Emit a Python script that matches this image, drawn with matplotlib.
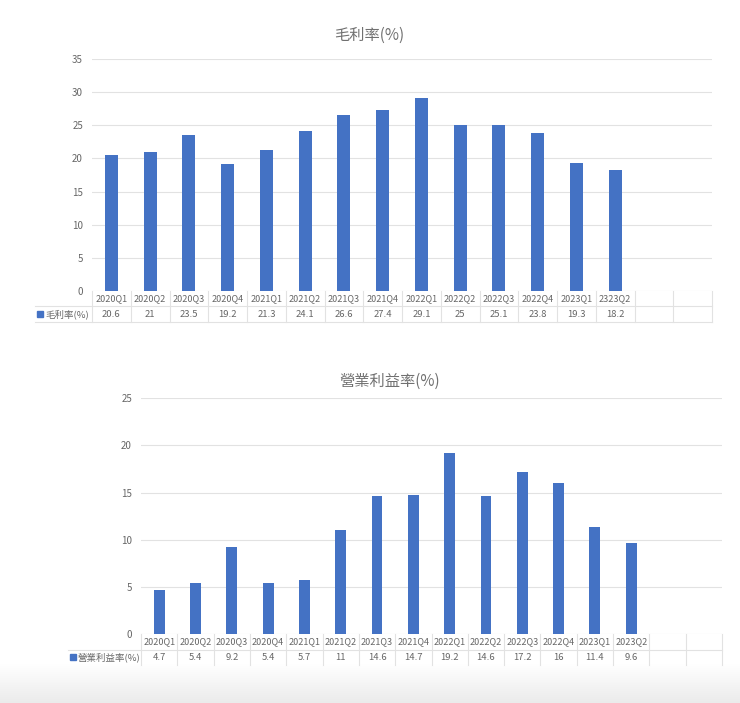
import numpy as np
import matplotlib
matplotlib.use('Agg')
import matplotlib.pyplot as plt
from matplotlib.transforms import blended_transform_factory

plt.rcParams['font.family'] = ['Noto Sans CJK TC', 'DejaVu Sans']

# data
gm_quarters = ['2020Q1', '2020Q2', '2020Q3', '2020Q4', '2021Q1', '2021Q2', '2021Q3',
               '2021Q4', '2022Q1', '2022Q2', '2022Q3', '2022Q4', '2023Q1', '2323Q2']
gm_values = [20.6, 21, 23.5, 19.2, 21.3, 24.1, 26.6, 27.4, 29.1, 25, 25.1, 23.8, 19.3, 18.2]
gm_title = '毛利率(%)'

op_quarters = ['2020Q1', '2020Q2', '2020Q3', '2020Q4', '2021Q1', '2021Q2', '2021Q3',
               '2021Q4', '2022Q1', '2022Q2', '2022Q3', '2022Q4', '2023Q1', '2023Q2']
op_values = [4.7, 5.4, 9.2, 5.4, 5.7, 11, 14.6, 14.7, 19.2, 14.6, 17.2, 16, 11.4, 9.6]
op_title = '營業利益率(%)'

NSLOTS = 16  # 14 quarters + 2 empty columns like the excel sheet
BLUE = '#4472C4'
GRID = '#e2e2e2'
TXT = '#666666'

W, H = 740, 703
fig = plt.figure(figsize=(W / 100, H / 100), dpi=100)
fig.patch.set_facecolor('white')

# overlay axes in pixel coordinates for table / title placement
over = fig.add_axes([0, 0, 1, 1], zorder=5)
over.axis('off')
over.patch.set_alpha(0)

# light grey fade at the bottom of the screenshot
grad = np.linspace(0, 1, 50).reshape(-1, 1)
fade = matplotlib.colors.LinearSegmentedColormap.from_list('fade', ['#ffffff', '#ebebeb'])
over.imshow(grad, extent=[0, W, H, 664], cmap=fade, aspect='auto', zorder=0)
over.set_xlim(0, W)
over.set_ylim(H, 0)


def panel(left, right, top, bottom, ymax, cats, vals, title, title_xy,
          label, label_left, row_h, bar_w, bottom_line=True):
    ax = fig.add_axes([left / W, 1 - bottom / H, (right - left) / W, (bottom - top) / H])
    xs = np.arange(len(cats))
    ax.bar(xs, vals, width=bar_w, color=BLUE, zorder=3)
    ax.set_xlim(-0.5, NSLOTS - 0.5)
    ax.set_ylim(0, ymax)
    ax.set_yticks(np.arange(0, ymax + 1, 5))
    ax.set_xticks([])
    ax.tick_params(axis='y', length=0, pad=6.5, labelsize=7, labelcolor=TXT)
    for s in ax.spines.values():
        s.set_visible(False)
    ax.grid(axis='y', color=GRID, linewidth=0.8, zorder=0)
    ax.set_axisbelow(True)

    over.text(title_xy[0], title_xy[1], title, fontsize=11, color='#707070',
              ha='center', va='center')

    # data table below the axis
    tr = blended_transform_factory(ax.transData, over.transData)
    r0, r1, r2 = bottom, bottom + row_h, bottom + 2 * row_h
    for i in range(NSLOTS + 1):
        over.plot([i - 0.5, i - 0.5], [r0, r2], color=GRID, lw=0.8, transform=tr)
    over.plot([label_left, right], [r1, r1], color=GRID, lw=0.8)
    if bottom_line:
        over.plot([label_left, right], [r2, r2], color=GRID, lw=0.8)
    for i, (c, v) in enumerate(zip(cats, vals)):
        over.text(i, (r0 + r1) / 2, c, transform=tr, fontsize=6.5, color=TXT,
                  ha='center', va='center')
        over.text(i, (r1 + r2) / 2, f'{v:g}', transform=tr, fontsize=6.8, color=TXT,
                  ha='center', va='center')
    over.plot([label_left + 5], [(r1 + r2) / 2], marker='s', ms=4, color=BLUE, lw=0)
    over.text(label_left + 10, (r1 + r2) / 2, label, fontsize=6.8, color=TXT,
              ha='left', va='center')
    return ax


panel(92, 712, 59.3, 290.7, 35, gm_quarters, gm_values, gm_title, (369, 35),
      gm_title, 35, 15.6, 0.34)
panel(141, 722, 398.3, 634, 25, op_quarters, op_values, op_title, (390, 381),
      op_title, 68, 15.5, 0.3, bottom_line=False)

fig.savefig('out.png', dpi=100)
